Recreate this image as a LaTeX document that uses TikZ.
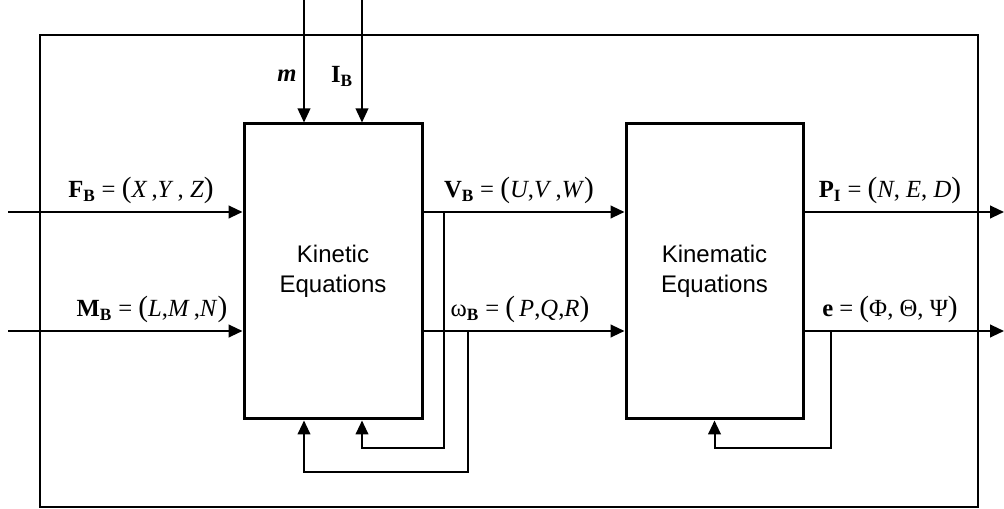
\documentclass[tikz,border=0pt]{standalone}
\usepackage{fontspec}
\setmainfont{Liberation Serif}
\newfontfamily\arialfont{Liberation Sans}
\usetikzlibrary{arrows.meta}
\newcommand{\lpar}{{\fontsize{22}{22}\selectfont(}}
\newcommand{\rpar}{{\fontsize{22}{22}\selectfont)}}
\begin{document}
\begin{tikzpicture}[x=0.75pt,y=-0.75pt,
  block/.style={draw, line width=2.25pt, inner sep=0pt, minimum height=221.25pt,
    align=center, font=\arialfont\fontsize{18}{22.5}\selectfont},
  frame/.style={draw, line width=2pt},
  arr/.style={line width=1.6pt, -{Triangle[length=10.5pt,width=9.5pt]}},
  thinarr/.style={line width=1.1pt, -{Triangle[length=10.5pt,width=9.5pt]}},
  fbline/.style={line width=1.5pt, -{Triangle[length=10.5pt,width=9.5pt]}},
  lab/.style={anchor=base, font=\fontsize{18.5}{22}\selectfont, inner sep=0pt}]
\useasboundingbox (0,0) rectangle (1004,509);
% outer frame
\draw[frame] (40,35) rectangle (978,507);
% blocks
\node[block, minimum width=133.5pt] (kin) at (333,271.5) {Kinetic\\Equations};
\node[block, minimum width=132.75pt] (kme) at (714.5,271.5) {Kinematic\\Equations};
% free ends
\coordinate (fin) at (8,212);
\coordinate (min) at (8,331);
\coordinate (mtop) at (304,0);
\coordinate (itop) at (362,0);
\coordinate (pout) at (1004,212);
\coordinate (eout) at (1004,331);
\coordinate (fb1) at (444,212);
\coordinate (fb1c) at (444,448);
\coordinate (fb2) at (468,331);
\coordinate (fb2c) at (468,472);
\coordinate (fb3) at (831,331);
\coordinate (fb3c) at (831,448);
% inputs
\draw[arr] (fin) -- (fin -| kin.west);
\draw[arr] (min) -- (min -| kin.west);
\draw[thinarr] (mtop) -- (mtop |- kin.north);
\draw[thinarr] (itop) -- (itop |- kin.north);
% between blocks
\draw[arr] (fin -| kin.east) -- (fin -| kme.west);
\draw[arr] (min -| kin.east) -- (min -| kme.west);
% outputs
\draw[arr] (fin -| kme.east) -- (pout);
\draw[arr] (min -| kme.east) -- (eout);
% feedback loops
\draw[fbline] (fb1) -- (fb1c) -| (itop |- kin.south);
\draw[fbline] (fb2) -- (fb2c) -| (mtop |- kin.south);
\draw[fbline] (fb3) -- (fb3c) -| (kme.south);
% labels
\node[lab] (lf) at (141,198) {\textbf{F}\textsubscript{\textbf{B}} = \lpar\textit{X}\,,\textit{Y}\,, \textit{Z}\rpar};
\node[lab] (lm) at (152,317) {\textbf{M}\textsubscript{\textbf{B}} = \lpar\textit{L},\textit{M}\,,\textit{N}\rpar};
\node[lab] (lv) at (519,198) {\textbf{V}\textsubscript{\textbf{B}} = \lpar\textit{U},\textit{V}\,,\textit{W}\rpar};
\node[lab] (lw) at (520,317) {ω\textsubscript{\textbf{B}} = \lpar\,\textit{P},\textit{Q},\textit{R}\rpar};
\node[lab] (lp) at (890,198) {\textbf{P}\textsubscript{\textbf{I}} = \lpar\textit{N}, \textit{E}, \textit{D}\rpar};
\node[lab] (le) at (890,317) {\textbf{e} = \lpar Φ, Θ, Ψ\rpar};
\node[lab] (lmass) at (287,82) {\textit{\textbf{m}}};
\node[lab] (li) at (342,83) {\textbf{I}\textsubscript{\textbf{B}}};
\end{tikzpicture}
\end{document}
